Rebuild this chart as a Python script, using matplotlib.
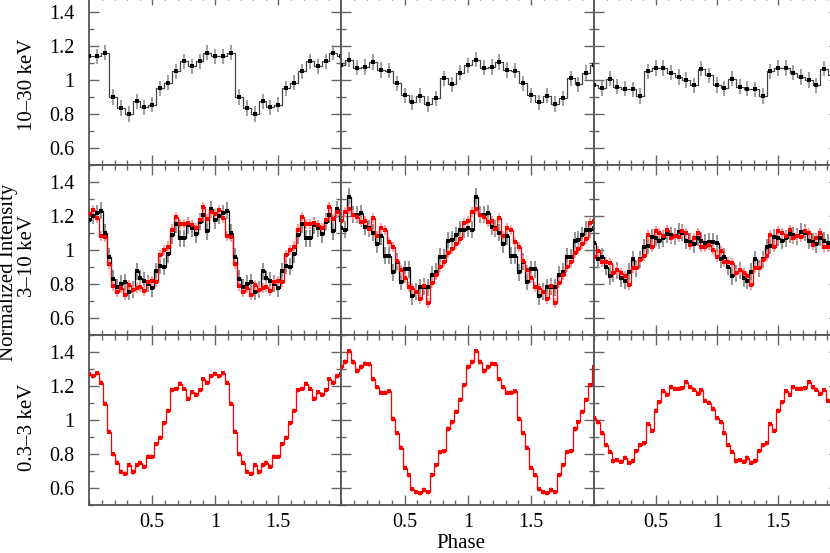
import numpy as np
import matplotlib.pyplot as plt
from matplotlib.ticker import MultipleLocator, FixedLocator

plt.rcParams['font.family'] = ['Liberation Serif', 'DejaVu Serif']

# one pulse cycle per panel (phase 0 .. 1-1/n), plotted twice
# 10-30 keV, 16 bins
hard_a = [1.14, 1.14, 1.16, 0.90, 0.835, 0.80, 0.875, 0.84, 0.855, 0.95, 0.985, 1.05, 1.11, 1.08, 1.11, 1.16]
hard_b = [1.087, 1.119, 1.073, 1.077, 1.105, 1.059, 1.055, 0.98, 0.909, 0.869, 0.907, 0.859, 0.893, 1.01, 0.974, 1.044]
hard_c = [0.970, 0.950, 1.008, 0.960, 0.949, 0.945, 0.905, 1.051, 1.071, 1.071, 1.044, 1.018, 1.0, 0.968, 1.067, 1.028]

# 3-10 keV, 32 bins, black and red instruments
mid_a_k = [1.176, 1.20, 1.215, 1.23, 1.10, 0.96, 0.83, 0.78, 0.80, 0.81, 0.755, 0.765, 0.876, 0.833, 0.82, 0.80,
           0.775, 0.876, 0.906, 0.90, 0.975, 1.088, 1.15, 1.069, 1.069, 1.147, 1.127, 1.094, 1.167, 1.206, 1.11, 1.24]
mid_a_r = [1.21, 1.235, 1.19, 1.08, 1.075, 0.92, 0.79, 0.755, 0.775, 0.735, 0.795, 0.765, 0.775, 0.785, 0.76, 0.814,
           0.818, 0.814, 0.97, 1.0, 1.02, 1.12, 1.196, 1.153, 1.153, 1.157, 1.147, 1.127, 1.176, 1.25, 1.18, 1.225]
mid_b_k = [1.127, 1.118, 1.314, 1.206, 1.206, 1.216, 1.137, 1.127, 1.102, 1.035, 1.082, 0.967, 0.965, 0.869, 0.931, 0.814,
           0.886, 0.886, 0.729, 0.755, 0.780, 0.784, 0.780, 0.853, 0.873, 0.961, 0.957, 1.055, 1.059, 1.088, 1.118, 1.118]
mid_b_r = [1.171, 1.222, 1.239, 1.206, 1.196, 1.167, 1.171, 1.124, 1.190, 1.082, 1.131, 1.118, 1.049, 1.016, 0.935, 0.882,
           0.833, 0.784, 0.775, 0.755, 0.710, 0.788, 0.690, 0.804, 0.853, 0.902, 0.931, 0.984, 1.004, 1.035, 1.065, 1.157]
mid_c_k = [1.039, 0.945, 0.959, 0.902, 0.847, 0.863, 0.882, 0.833, 0.820, 0.873, 0.945, 0.892, 0.945, 1.016, 1.024, 1.075,
           1.073, 1.055, 1.069, 1.094, 1.088, 1.082, 1.108, 1.102, 1.053, 1.049, 1.035, 1.073, 1.055, 1.043, 1.049, 1.049]
mid_c_r = [0.961, 0.996, 0.931, 0.931, 0.925, 0.863, 0.882, 0.863, 0.847, 0.794, 0.892, 0.892, 0.941, 0.965, 1.086, 1.016,
           1.112, 1.102, 1.082, 1.118, 1.069, 1.082, 1.075, 1.114, 1.102, 1.029, 1.069, 1.098, 1.020, 1.016, 1.029, 1.0]

# 0.3-3 keV, 32 bins
soft_a = [1.272, 1.258, 1.276, 1.219, 1.095, 0.931, 0.799, 0.75, 0.696, 0.684, 0.734, 0.694, 0.734, 0.75, 0.724, 0.785,
          0.783, 0.858, 0.897, 0.982, 1.055, 1.174, 1.183, 1.213, 1.183, 1.124, 1.164, 1.148, 1.174, 1.239, 1.219, 1.258]
soft_b = [1.312, 1.341, 1.404, 1.341, 1.288, 1.312, 1.331, 1.327, 1.239, 1.193, 1.160, 1.160, 1.170, 1.006, 0.923, 0.838,
          0.72, 0.675, 0.592, 0.576, 0.568, 0.588, 0.576, 0.675, 0.734, 0.809, 0.815, 0.947, 0.986, 1.049, 1.12, 1.203]
soft_c = [1.01, 0.986, 0.921, 0.852, 0.813, 0.759, 0.763, 0.755, 0.779, 0.75, 0.759, 0.815, 0.852, 0.864, 0.976, 0.937,
          1.055, 1.105, 1.170, 1.150, 1.193, 1.183, 1.183, 1.187, 1.223, 1.193, 1.178, 1.154, 1.174, 1.114, 1.101, 1.065]

err_hard = 0.045
err_mid_k = 0.05
err_mid_r = 0.03
err_soft = 0.015

row_labels = ['10\u201330 keV', '3\u201310 keV', '0.3\u20133 keV']
ylab_common = 'Normalized Intensity'
xlab = 'Phase'
xticks = [0.5, 1, 1.5]
xtick_labels = ['0.5', '1', '1.5']
yticks = [0.6, 0.8, 1, 1.2, 1.4]
ytick_labels = ['0.6', '0.8', '1', '1.2', '1.4']

W, H = 830, 553


def draw(ax, cycle, err, line, ecol, mcol):
    n = len(cycle)
    ph = np.arange(2 * n + 1) / n
    y = np.array(list(cycle) * 2 + [cycle[0]])
    ax.errorbar(ph, y, yerr=err, fmt='none', ecolor=ecol, elinewidth=1.3, zorder=2)
    ax.plot(ph, y, drawstyle='steps-mid', color=line, lw=0.9, zorder=3)
    ax.plot(ph, y, 's', ms=2.3, color=mcol, mew=0, zorder=4)


fig = plt.figure(figsize=(W / 100, H / 100), dpi=100)
gs = fig.add_gridspec(3, 3, left=89.3 / W, right=839.3 / W, top=1 + 5 / H, bottom=1 - 505 / H,
                      width_ratios=[252, 253, 245], hspace=0, wspace=0)
axes = [[fig.add_subplot(gs[r, c]) for c in range(3)] for r in range(3)]

hard = [hard_a, hard_b, hard_c]
mid_k = [mid_a_k, mid_b_k, mid_c_k]
mid_r = [mid_a_r, mid_b_r, mid_c_r]
soft = [soft_a, soft_b, soft_c]

for c in range(3):
    draw(axes[0][c], hard[c], err_hard, '#444444', '#999999', 'black')
    draw(axes[1][c], mid_k[c], err_mid_k, 'black', '#8c8c8c', 'black')
    draw(axes[1][c], mid_r[c], err_mid_r, 'red', '#ff9a9a', 'red')
    draw(axes[2][c], soft[c], err_soft, 'red', '#ffa0a0', 'red')

for r in range(3):
    for c in range(3):
        ax = axes[r][c]
        ax.set_xlim(0, 2)
        ax.set_ylim(0.5, 1.5)
        ax.xaxis.set_major_locator(FixedLocator(xticks))
        ax.xaxis.set_minor_locator(MultipleLocator(0.1))
        ax.yaxis.set_major_locator(FixedLocator(yticks))
        ax.yaxis.set_minor_locator(MultipleLocator(0.1))
        ax.tick_params(which='both', direction='in', top=True, right=True, color='#666666', width=1)
        ax.tick_params(which='major', length=7)
        ax.tick_params(which='minor', length=3.5)
        ax.tick_params(axis='x', pad=5.5)
        ax.tick_params(axis='y', pad=10.5)
        for s in ax.spines.values():
            s.set_color('#555555')
            s.set_linewidth(1.3)
        if r == 2:
            ax.set_xticklabels(xtick_labels, fontsize=14.5)
        else:
            ax.set_xticklabels([])
        if c == 0:
            ax.set_yticklabels(ytick_labels, fontsize=14.5)
        else:
            ax.set_yticklabels([])

# axis titles placed in pixel positions of the reference
for lab, yc in zip(row_labels, [85, 256, 427]):
    fig.text(28 / W, 1 - yc / H, lab, rotation=90, fontsize=15, ha='center', va='center')
fig.text(9 / W, 1 - 272 / H, ylab_common, rotation=90, fontsize=15, ha='center', va='center')
fig.text(461 / W, 1 - 548 / H, xlab, fontsize=15, ha='center', va='baseline')

fig.savefig('out.png', dpi=100)
